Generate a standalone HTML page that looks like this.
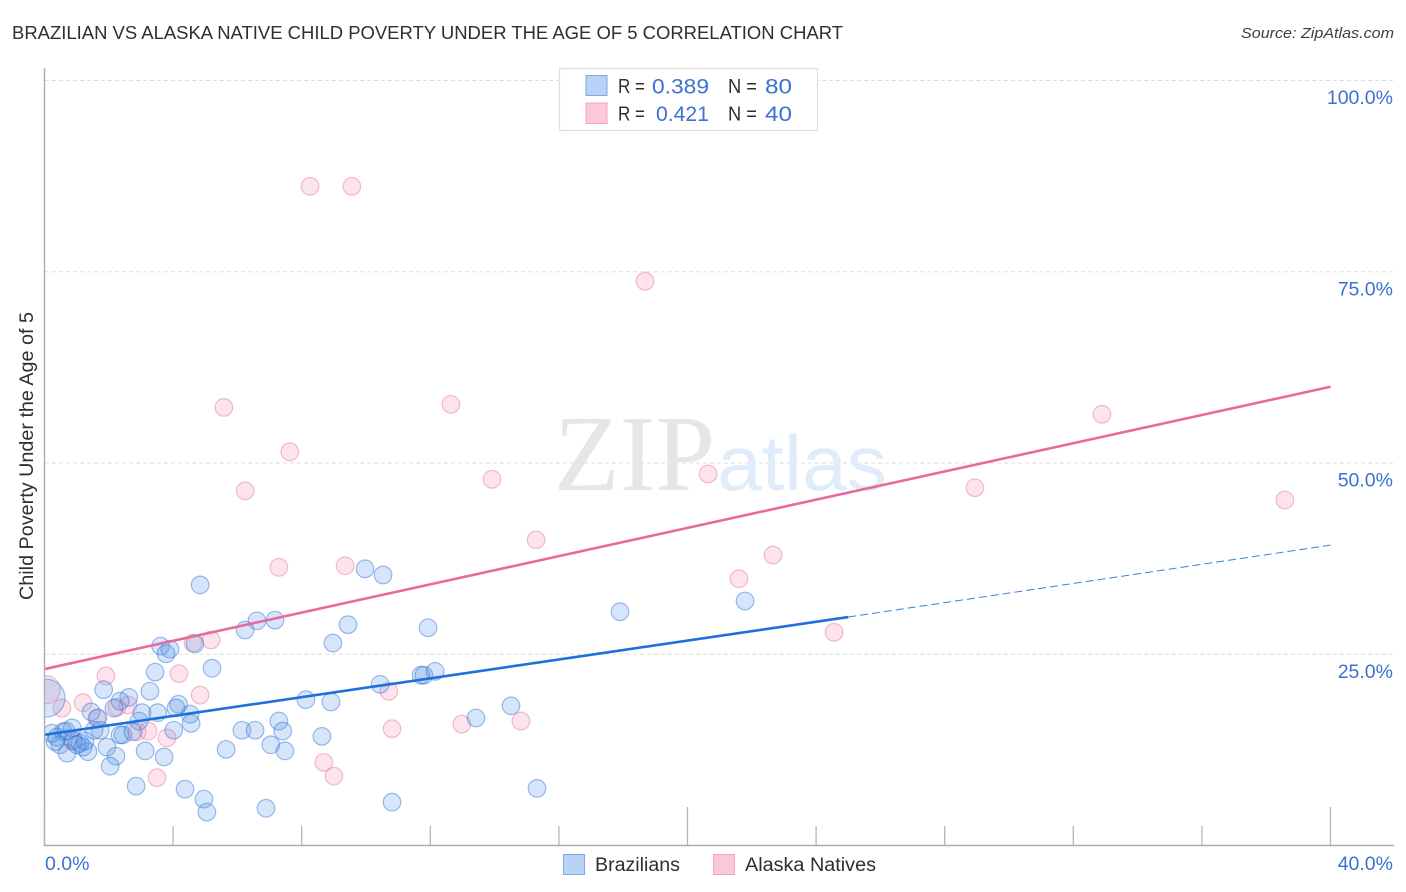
<!DOCTYPE html>
<html lang="en">
<head>
<meta charset="utf-8">
<title>Brazilian vs Alaska Native Child Poverty Under the Age of 5 Correlation Chart</title>
<style>
html,body{margin:0;padding:0;background:#fff;width:1406px;height:892px;overflow:hidden}
svg{display:block;font-family:"Liberation Sans",sans-serif}
</style>
</head>
<body>
<svg id="chart" width="1406" height="892" viewBox="0 0 1406 892" xmlns="http://www.w3.org/2000/svg">
  <defs>
    <clipPath id="plot-clip"><rect x="45" y="60" width="1349" height="785"/></clipPath>
  </defs>
  <rect width="1406" height="892" fill="#ffffff"/>
  <text x="12" y="39" font-size="18.5" fill="#2b2f36" textLength="831" lengthAdjust="spacingAndGlyphs">BRAZILIAN VS ALASKA NATIVE CHILD POVERTY UNDER THE AGE OF 5 CORRELATION CHART</text>
  <text x="1394" y="38" font-size="15" font-style="italic" fill="#3a3f46" text-anchor="end" textLength="153" lengthAdjust="spacingAndGlyphs">Source: ZipAtlas.com</text>

  <g id="grid"></g>

  <g>
    <text x="554" y="490" font-family="'Liberation Serif',serif" font-size="108" fill="#e6e6e6" textLength="161" lengthAdjust="spacingAndGlyphs">ZIP</text>
    <text x="717" y="490" font-size="78" fill="#e1ecfb" textLength="170" lengthAdjust="spacingAndGlyphs">atlas</text>
  </g>

  <g id="pink-points" clip-path="url(#plot-clip)"></g>
  <g id="blue-points" clip-path="url(#plot-clip)"></g>
  <g id="trends"></g>
  <g id="axes"></g>

  <text transform="translate(33,456) rotate(-90)" font-size="19" fill="#2b2f36" text-anchor="middle" textLength="288" lengthAdjust="spacingAndGlyphs">Child Poverty Under the Age of 5</text>

  <g>
    <rect x="559.5" y="68.5" width="258" height="62" fill="#ffffff" stroke="#dedede" stroke-width="1.2"/>
    <rect x="586" y="75.5" width="21" height="20" fill="#b9d3f7" stroke="#7ea9e6" stroke-width="1"/>
    <rect x="586" y="103" width="21" height="20.5" fill="#fcc9da" stroke="#f3a5c0" stroke-width="1"/>
    <g font-size="20" fill="#2b2f36">
      <text x="618" y="93" textLength="27" lengthAdjust="spacingAndGlyphs">R =</text>
      <text x="728" y="93" textLength="29" lengthAdjust="spacingAndGlyphs">N =</text>
      <text x="618" y="120.500" textLength="27" lengthAdjust="spacingAndGlyphs">R =</text>
      <text x="728" y="120.500" textLength="29" lengthAdjust="spacingAndGlyphs">N =</text>
    </g>
    <g font-size="21" fill="#3a72d2">
      <text x="652" y="93.500" textLength="57" lengthAdjust="spacingAndGlyphs">0.389</text>
      <text x="765" y="93.500" textLength="27" lengthAdjust="spacingAndGlyphs">80</text>
      <text x="656" y="121" textLength="53" lengthAdjust="spacingAndGlyphs">0.421</text>
      <text x="765" y="121" textLength="27" lengthAdjust="spacingAndGlyphs">40</text>
    </g>
  </g>

  <g>
    <rect x="563.500" y="854.500" width="21" height="20" fill="#b9d3f7" stroke="#7ea9e6" stroke-width="1"/>
    <text x="595" y="871" font-size="19" fill="#2b2f36" textLength="85" lengthAdjust="spacingAndGlyphs">Brazilians</text>
    <rect x="713.500" y="854.500" width="21" height="20" fill="#fcc9da" stroke="#f3a5c0" stroke-width="1"/>
    <text x="745" y="871" font-size="19" fill="#2b2f36" textLength="131" lengthAdjust="spacingAndGlyphs">Alaska Natives</text>
  </g>
</svg>

<script>
// Values in percent.
const brazilianX = [0.05,4.84,3.61,3.90,3.78,4.68,6.24,6.61,7.17,8.97,9.44,3.44,5.21,1.84,3.28,2.62,2.35,2.16,4.17,4.09,3.52,4.53,4.56,4.02,3.03,2.94,8.13,8.91,7.29,7.41,6.14,6.55,5.65,7.04,7.48,8.63,3.13,3.72,1.94,2.22,2.04,2.85,4.37,4.96,5.05,6.89,9.97,10.53,11.93,17.90,21.79,10.44,11.71,11.80,12.15,13.42,14.51,15.32,10.81,1.45,1.66,1.73,0.86,0.58,0.23,0.39,0.48,0.70,1.35,0.89,1.10,1.20,2.44,2.35,2.75,0.67,1.26,0.33,1.54,1.01];
const brazilianY = [19.2,34.0,26.0,25.6,25.0,26.3,28.1,29.3,29.4,26.4,28.8,22.6,23.1,20.3,20.1,19.3,18.8,17.9,18.4,17.9,17.3,17.1,15.9,15.0,17.3,16.2,19.0,18.7,16.2,14.9,15.0,15.0,12.5,13.1,12.3,14.2,12.3,11.5,12.8,11.6,10.3,7.7,7.3,6.0,4.3,4.8,36.1,35.3,28.4,30.5,31.9,21.0,22.2,22.2,22.7,16.6,18.2,7.4,5.6,17.4,16.6,15.0,15.3,14.8,14.6,14.1,13.1,12.0,12.2,13.7,13.3,12.8,14.4,14.4,14.8,14.9,13.6,13.5,15.0,13.1];
const alaskaX = [8.26,9.56,18.68,5.58,12.64,7.63,6.24,13.92,20.64,32.89,28.94,38.58,15.29,22.66,21.60,7.29,9.35,24.56,5.18,4.62,1.91,4.18,4.84,10.71,1.20,0.05,0.54,2.25,2.60,10.81,12.98,14.82,3.22,2.88,3.81,8.69,9.00,3.50,1.63,0.89];
const alaskaY = [86.1,86.1,73.7,57.2,57.6,51.4,46.3,47.8,48.5,56.3,46.7,45.1,39.9,37.9,34.8,36.3,36.5,27.8,26.8,26.4,22.1,22.4,19.6,20.1,18.6,20.3,17.9,18.0,18.3,15.2,15.8,16.2,14.9,14.8,14.0,10.8,9.0,8.8,16.6,13.5];
// Relative sample weight of the first point in each series (all others are 1).
const brazilianLeadWeight = 2.15;
const alaskaLeadWeight = 1.6;

const pinkTrendX = [0, 40];
const pinkTrendY = [23.0, 59.9];
const blueTrendX = [0, 25];
const blueTrendY = [14.4, 29.8];
const blueForecastX = [25, 40];
const blueForecastY = [29.8, 39.2];

const yTickValues = [25, 50, 75, 100];
const yTickLabels = ["25.0%", "50.0%", "75.0%", "100.0%"];
const xTickValues = [0, 4, 8, 12, 16, 20, 24, 28, 32, 36, 40];
const xMajorTicks = [0, 20, 40];
const xEndValues = [0, 40];
const xEndLabels = ["0.0%", "40.0%"];

const NS = "http://www.w3.org/2000/svg";
function sx(v){ return 44.5 + v * 32.15; }
function sy(v){ return 845 - v * 7.65; }
function make(tag, attrs, parent){
  const el = document.createElementNS(NS, tag);
  for (const k in attrs) el.setAttribute(k, attrs[k]);
  parent.appendChild(el);
  return el;
}
const gridG = document.getElementById("grid");
const axesG = document.getElementById("axes");
const trendG = document.getElementById("trends");
const pinkG = document.getElementById("pink-points");
const blueG = document.getElementById("blue-points");

yTickValues.forEach(function(v, i){
  const g = make("line", {x1:45, x2:1394, y1:sy(v)+0.5, y2:sy(v)+0.5, stroke:"#dedede", "stroke-width":1, "stroke-dasharray":"4 3"}, gridG);
  
  
  const t = make("text", {x:1393, y:sy(v)+24, "font-size":19.5, fill:"#3a72d2", "text-anchor":"end"}, axesG);
  
  
  t.textContent = yTickLabels[i];
});

const yAxis = make("line", {x1:44.5, x2:44.5, y1:68, y2:846, stroke:"#adadad", "stroke-width":1.4}, axesG);


const xAxis = make("line", {x1:44, x2:1394, y1:845.5, y2:845.5, stroke:"#adadad", "stroke-width":1.4}, axesG);



xTickValues.forEach(function(v){
  const tall = xMajorTicks.indexOf(v) >= 0;
  const tk = make("line", {x1:sx(v), x2:sx(v), y1:tall ? 807 : 826, y2:845, stroke:"#b5b5b5", "stroke-width":1.3}, axesG);
  
  
});
xEndValues.forEach(function(v, i){
  const t = make("text", {x: i === 0 ? 45 : 1393, y:870, "font-size":19.5, fill:"#3a72d2", "text-anchor": i === 0 ? "start" : "end"}, axesG);
  
  
  t.textContent = xEndLabels[i];
});

alaskaX.forEach(function(v, i){
  const r = i === 25 ? 8.8 * alaskaLeadWeight : 8.8;
  const c = make("circle", {cx:sx(v), cy:sy(alaskaY[i]), r:r, fill:"rgba(246,130,170,0.22)", stroke:"rgba(232,110,150,0.45)", "stroke-width":1.2}, pinkG);
  
  
});
brazilianX.forEach(function(v, i){
  const r = i === 0 ? 8.8 * brazilianLeadWeight : 8.8;
  const c = make("circle", {cx:sx(v), cy:sy(brazilianY[i]), r:r, fill:"rgba(90,150,230,0.25)", stroke:"rgba(40,110,215,0.45)", "stroke-width":1.2}, blueG);
  
  
});

const pinkLine = make("line", {x1:sx(pinkTrendX[0]), y1:sy(pinkTrendY[0]), x2:sx(pinkTrendX[1]), y2:sy(pinkTrendY[1]), stroke:"#e8699a", "stroke-width":2.6}, trendG);


const blueLine = make("line", {x1:sx(blueTrendX[0]), y1:sy(blueTrendY[0]), x2:sx(blueTrendX[1]), y2:sy(blueTrendY[1]), stroke:"#1f6fdc", "stroke-width":2.6}, trendG);


const blueDash = make("line", {x1:sx(blueForecastX[0]), y1:sy(blueForecastY[0]), x2:sx(blueForecastX[1]), y2:sy(blueForecastY[1]), stroke:"#3b7fdc", "stroke-width":1, "stroke-dasharray":"8 4"}, trendG);


</script>
</body>
</html>
